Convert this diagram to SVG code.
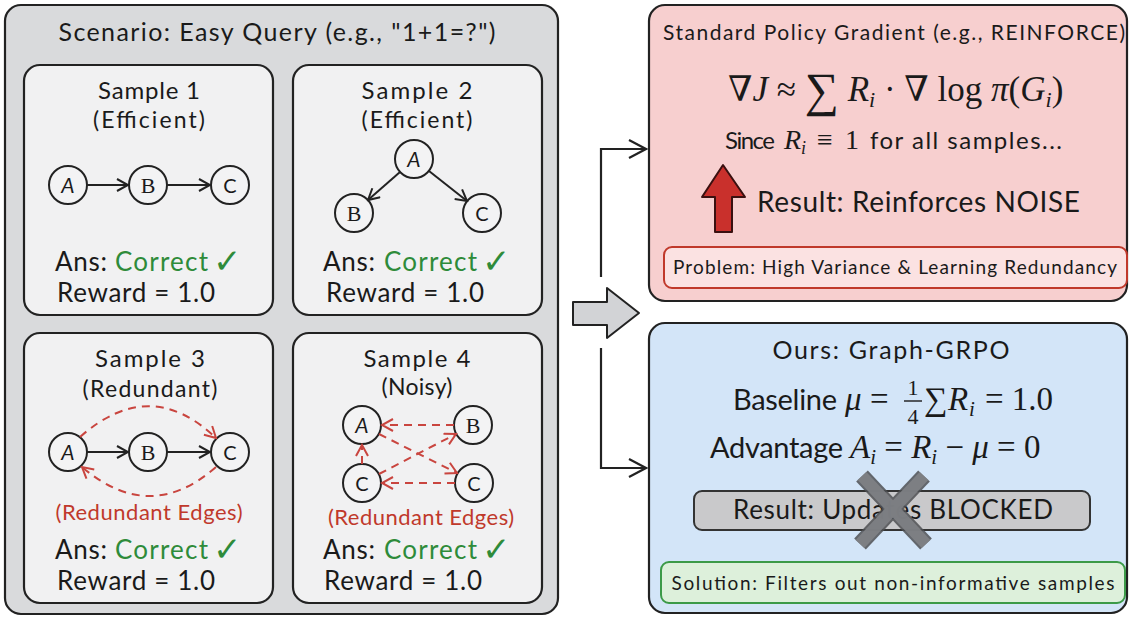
<svg xmlns="http://www.w3.org/2000/svg" width="1132" height="617" viewBox="0 0 1132 617">
<defs>
<style>
.hand{font-family:Lato,"Noto Sans","Liberation Sans",sans-serif;fill:#1a1a1a}
.mid{text-anchor:middle}
.green{fill:#2e8b3a}
.red{fill:#c0392b}
.math{font-family:"Liberation Serif","DejaVu Serif",serif;fill:#1a1a1a}
.it{font-style:italic}
.box{stroke:#222;stroke-width:2.2}
.node{fill:#f3f3f4;stroke:#222;stroke-width:2}
.edge{fill:none;stroke:#222;stroke-width:2}
.dash{fill:none;stroke:#c9453f;stroke-width:2;stroke-dasharray:8 6}
.flow{fill:none;stroke:#222;stroke-width:2.2}
.check{font-family:"DejaVu Sans",sans-serif;fill:#2e8b3a;font-weight:bold}
</style>
<marker id="ah" viewBox="0 0 14 14" refX="12" refY="7" markerWidth="14" markerHeight="14" markerUnits="userSpaceOnUse" orient="auto"><path d="M1,1 L12,7 L1,13" fill="none" stroke="#222" stroke-width="2"/></marker>
<marker id="ahr" viewBox="0 0 14 14" refX="12" refY="7" markerWidth="14" markerHeight="14" markerUnits="userSpaceOnUse" orient="auto"><path d="M1,1 L12,7 L1,13" fill="none" stroke="#c9453f" stroke-width="2"/></marker>
<marker id="ahb" viewBox="0 0 20 20" refX="18" refY="10" markerWidth="20" markerHeight="20" markerUnits="userSpaceOnUse" orient="auto"><path d="M1,1 L18,10 L1,19" fill="none" stroke="#222" stroke-width="2.2"/></marker>
</defs>
<rect width="1132" height="617" fill="#ffffff"/>

<g id="scenario">
<rect x="5" y="5" width="553" height="609" rx="16" fill="#d9dadc" class="box"/>
<text x="277" y="41" class="hand mid" font-size="25" textLength="437">Scenario: Easy Query (e.g., "1+1=?")</text>
</g>

<g id="sample1">
<rect x="24" y="65" width="249" height="250" rx="16" fill="#f1f1f2" class="box"/>
<text x="149" y="99" class="hand mid" font-size="24" textLength="102">Sample 1</text>
<text x="149" y="128" class="hand mid" font-size="23" textLength="112">(Efficient)</text>
<circle cx="68" cy="185" r="19" class="node"/><text x="68" y="193" class="hand mid" font-size="21" font-style="italic">A</text>
<circle cx="148" cy="185" r="19" class="node"/><text x="148" y="193" class="math mid" font-size="22">B</text>
<circle cx="230" cy="185" r="19" class="node"/><text x="230" y="193" class="hand mid" font-size="20">C</text>
<text x="55" y="271" class="hand" font-size="26" textLength="52">Ans:</text>
<text x="115" y="271" class="hand green" font-size="26" textLength="93">Correct</text>
<text x="213" y="273" class="check" font-size="34">✓</text>
<text x="57" y="302" class="hand" font-size="26" textLength="158">Reward = 1.0</text>
</g>

<g id="sample2">
<rect x="293" y="65" width="249" height="250" rx="16" fill="#f1f1f2" class="box"/>
<text x="417" y="99" class="hand mid" font-size="24" textLength="111">Sample 2</text>
<text x="417" y="128" class="hand mid" font-size="23" textLength="111">(Efficient)</text>
<circle cx="414" cy="159" r="19" class="node"/><text x="414" y="167" class="hand mid" font-size="21" font-style="italic">A</text>
<circle cx="354" cy="213" r="19" class="node"/><text x="354" y="221" class="math mid" font-size="22">B</text>
<circle cx="482" cy="213" r="19" class="node"/><text x="482" y="221" class="hand mid" font-size="20">C</text>
<text x="323" y="271" class="hand" font-size="26" textLength="52">Ans:</text>
<text x="384" y="271" class="hand green" font-size="26" textLength="93">Correct</text>
<text x="482" y="273" class="check" font-size="34">✓</text>
<text x="326" y="302" class="hand" font-size="26" textLength="158">Reward = 1.0</text>
</g>

<g id="sample3">
<rect x="24" y="333" width="249" height="270" rx="16" fill="#f1f1f2" class="box"/>
<text x="150" y="367" class="hand mid" font-size="24" textLength="110">Sample 3</text>
<text x="150" y="397" class="hand mid" font-size="23" textLength="135">(Redundant)</text>
<circle cx="68" cy="452" r="19" class="node"/><text x="68" y="460" class="hand mid" font-size="21" font-style="italic">A</text>
<circle cx="148" cy="452" r="19" class="node"/><text x="148" y="460" class="math mid" font-size="22">B</text>
<circle cx="230" cy="452" r="19" class="node"/><text x="230" y="460" class="hand mid" font-size="20">C</text>
<text x="149" y="520" class="hand mid red" font-size="22" textLength="187">(Redundant Edges)</text>
<text x="55" y="559" class="hand" font-size="26" textLength="52">Ans:</text>
<text x="115" y="559" class="hand green" font-size="26" textLength="93">Correct</text>
<text x="213" y="561" class="check" font-size="34">✓</text>
<text x="57" y="590" class="hand" font-size="26" textLength="158">Reward = 1.0</text>
</g>

<g id="sample4">
<rect x="293" y="333" width="249" height="270" rx="16" fill="#f1f1f2" class="box"/>
<text x="417" y="367" class="hand mid" font-size="24" textLength="107">Sample 4</text>
<text x="417" y="395" class="hand mid" font-size="23" textLength="71">(Noisy)</text>
<circle cx="362" cy="425" r="19" class="node"/><text x="362" y="433" class="hand mid" font-size="21" font-style="italic">A</text>
<circle cx="473" cy="425" r="19" class="node"/><text x="473" y="433" class="math mid" font-size="22">B</text>
<circle cx="362" cy="483" r="19" class="node"/><text x="362" y="491" class="hand mid" font-size="20">C</text>
<circle cx="474" cy="483" r="19" class="node"/><text x="474" y="491" class="hand mid" font-size="20">C</text>
<text x="421" y="525" class="hand mid red" font-size="22" textLength="186">(Redundant Edges)</text>
<text x="323" y="559" class="hand" font-size="26" textLength="52">Ans:</text>
<text x="384" y="559" class="hand green" font-size="26" textLength="93">Correct</text>
<text x="482" y="561" class="check" font-size="34">✓</text>
<text x="324" y="590" class="hand" font-size="26" textLength="158">Reward = 1.0</text>
</g>

<g id="pg-panel">
<rect x="649" y="5" width="478" height="296" rx="16" fill="#f7cfcf" class="box"/>
<text x="894" y="40" class="hand mid" font-size="21" textLength="462">Standard Policy Gradient (e.g., REINFORCE)</text>
<text x="728" y="101" class="math" font-size="35">∇<tspan class="it">J</tspan> ≈ <tspan font-size="48" dy="5">∑</tspan><tspan dy="-5"> </tspan><tspan class="it">R</tspan><tspan class="it" font-size="22" dy="6">i</tspan><tspan dy="-6"> · ∇ log </tspan><tspan class="it">π</tspan>(<tspan class="it">G</tspan><tspan class="it" font-size="22" dy="6">i</tspan><tspan dy="-6">)</tspan></text>
<text x="725" y="149" class="hand" font-size="24" textLength="50">Since</text>
<text x="784" y="149" class="math it" font-size="28">R</text>
<text x="801" y="154" class="math it" font-size="18">i</text>
<text x="817" y="149" class="math" font-size="28">≡</text>
<text x="845" y="149" class="math" font-size="28">1</text>
<text x="870" y="149" class="hand" font-size="24" textLength="192">for all samples...</text>
<path d="M715,232 L732,232 L732,197 L745,197 L723,165 L702,197 L715,197 Z" fill="#c9302c" stroke="#3a1010" stroke-width="2" stroke-linejoin="round"/>
<text x="757" y="212" class="hand" font-size="28" textLength="323">Result: Reinforces NOISE</text>
<rect x="664" y="247" width="463" height="41" rx="8" fill="#fbe2e2" stroke="#c0392b" stroke-width="2"/>
<text x="895" y="274" class="hand mid" font-size="19" textLength="444">Problem: High Variance &amp; Learning Redundancy</text>
</g>

<g id="ours-panel">
<rect x="649" y="323" width="478" height="290" rx="16" fill="#d3e5f8" class="box"/>
<text x="891" y="359" class="hand mid" font-size="25" textLength="237">Ours: Graph-GRPO</text>
<text x="733" y="410" class="hand" font-size="29" textLength="104">Baseline</text>
<text x="845" y="410" class="math it" font-size="33">μ</text>
<text x="870" y="410" class="math" font-size="33">=</text>
<text x="913" y="395" class="math mid" font-size="22">1</text>
<line x1="904" y1="401" x2="922" y2="401" stroke="#1a1a1a" stroke-width="1.4"/>
<text x="913" y="424" class="math mid" font-size="22">4</text>
<text x="924" y="410" class="math" font-size="33">∑</text>
<text x="948" y="410" class="math it" font-size="33">R</text>
<text x="969" y="416" class="math it" font-size="21">i</text>
<text x="985" y="410" class="math" font-size="33">= 1.0</text>
<text x="710" y="458" class="hand" font-size="29" textLength="133">Advantage</text>
<text x="850" y="458" class="math" font-size="33"><tspan class="it">A</tspan><tspan class="it" font-size="21" dy="6">i</tspan><tspan dy="-6"> = </tspan><tspan class="it">R</tspan><tspan class="it" font-size="21" dy="6">i</tspan><tspan dy="-6"> − </tspan><tspan class="it">μ</tspan> = 0</text>
<rect x="694" y="491" width="396" height="39" rx="8" fill="#c9c9cb" stroke="#333" stroke-width="2"/>
<text x="893" y="519" class="hand mid" font-size="26" textLength="320">Result: Updates BLOCKED</text>
<g stroke="#4f5154" stroke-width="16" stroke-linecap="butt" opacity="0.85">
<line x1="862" y1="476" x2="926" y2="544"/>
<line x1="924" y1="476" x2="860" y2="544"/>
</g>
<g stroke="#808286" stroke-width="12" stroke-linecap="butt" opacity="0.9">
<line x1="862" y1="476" x2="926" y2="544"/>
<line x1="924" y1="476" x2="860" y2="544"/>
</g>
<rect x="661" y="562" width="464" height="41" rx="8" fill="#ddf0db" stroke="#3c9a48" stroke-width="2"/>
<text x="893" y="590" class="hand mid" font-size="19" textLength="443">Solution: Filters out non-informative samples</text>
</g>

<g id="connectors">
<line x1="87" y1="185" x2="128" y2="185" class="edge" marker-end="url(#ah)"/>
<line x1="167" y1="185" x2="210" y2="185" class="edge" marker-end="url(#ah)"/>
<line x1="400" y1="172" x2="368" y2="200" class="edge" marker-end="url(#ah)"/>
<line x1="429" y1="171" x2="467" y2="201" class="edge" marker-end="url(#ah)"/>
<line x1="87" y1="452" x2="128" y2="452" class="edge" marker-end="url(#ah)"/>
<line x1="167" y1="452" x2="210" y2="452" class="edge" marker-end="url(#ah)"/>
<path d="M80,437 Q150,375 216,438" class="dash" marker-end="url(#ahr)"/>
<path d="M216,467 Q150,525 82,467" class="dash" marker-end="url(#ahr)"/>
<line x1="454" y1="425" x2="382" y2="425" class="dash" marker-end="url(#ahr)"/>
<line x1="379" y1="434" x2="457" y2="473" class="dash" marker-end="url(#ahr)"/>
<line x1="379" y1="474" x2="456" y2="434" class="dash" marker-end="url(#ahr)"/>
<line x1="455" y1="483" x2="382" y2="483" class="dash" marker-end="url(#ahr)"/>
<line x1="362" y1="464" x2="362" y2="445" class="dash" marker-end="url(#ahr)"/>
<path d="M573,302 L607,302 L607,288 L639,313 L607,338 L607,325 L573,325 Z" fill="#d2d3d6" stroke="#222" stroke-width="2" stroke-linejoin="round"/>
<path d="M601,277 L601,149 L646,149" class="flow" marker-end="url(#ahb)"/>
<path d="M601,348 L601,468 L646,468" class="flow" marker-end="url(#ahb)"/>
</g>
</svg>
